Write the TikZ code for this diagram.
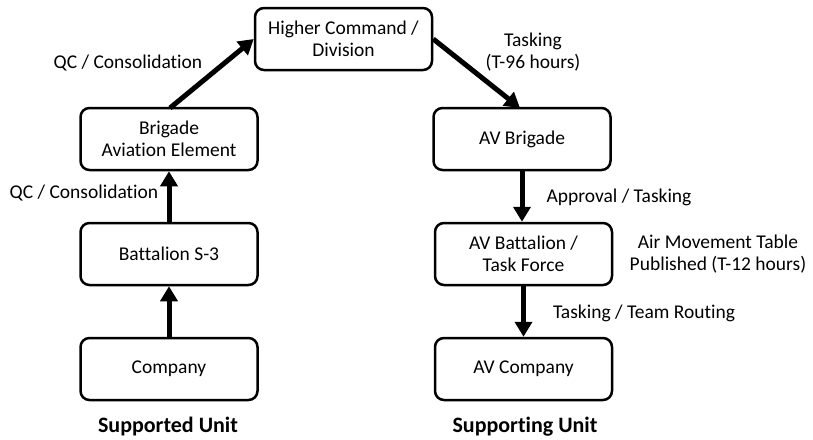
\documentclass[tikz,border=0pt]{standalone}
\usepackage{fontspec}
\setmainfont{Carlito}[Ligatures={NoCommon,NoContextual}]
\usetikzlibrary{arrows.meta}
\begin{document}
\begin{tikzpicture}[x=1pt,y=-1pt,
  unitbox/.style={draw=black,line width=2.5pt,rounded corners=9pt,minimum width=177pt,minimum height=62pt,align=center,inner sep=2pt,font=\fontsize{19.5}{22}\selectfont},
  lbl/.style={align=center,inner sep=0pt,font=\fontsize{19.5}{22}\selectfont},
  head/.style={inner sep=0pt,font=\fontsize{22}{26}\selectfont\bfseries},
  flow/.style={line width=5pt,-{Triangle[length=15pt,width=17pt]}}]
\useasboundingbox (0,0) rectangle (813,439);
\node[unitbox] (hq) at (343.5,39) {Higher Command /\\Division};
\node[unitbox] (bae) at (169,139) {Brigade\\Aviation Element};
\node[unitbox] (bs3) at (169,254) {Battalion S-3};
\node[unitbox] (co) at (169,369) {Company};
\node[unitbox] (avb) at (522,139) {AV Brigade};
\node[unitbox] (avbn) at (523.5,254) {AV Battalion /\\Task Force};
\node[unitbox] (avco) at (523.5,369) {AV Company};
\node[head] (supd) at (168,427) {Supported Unit};
\node[head] (supg) at (525,427) {Supporting Unit};
\coordinate (baetop) at (170,108);
\coordinate (avbtop) at (520,108);
\draw[flow] (co.north) -- (bs3.south);
\draw[flow] (bs3.north) -- (bae.south);
\draw[flow] (baetop) -- (hq.west);
\draw[flow] (hq.east) -- (avbtop);
\draw[flow] (avb.south) -- (avbn.north -| avb.south);
\draw[flow] (avbn.south) -- (avco.north);
\node[lbl] (l1) at (128,63) {QC / Consolidation};
\node[lbl] (l2) at (84,193) {QC / Consolidation};
\node[lbl] (l3) at (533,52) {Tasking\\(T-96 hours)};
\node[lbl] (l4) at (619,197) {Approval / Tasking};
\node[lbl] (l5) at (718,254) {Air Movement Table\\Published (T-12 hours)};
\node[lbl] (l6) at (644,313) {Tasking / Team Routing};
\end{tikzpicture}
\end{document}
